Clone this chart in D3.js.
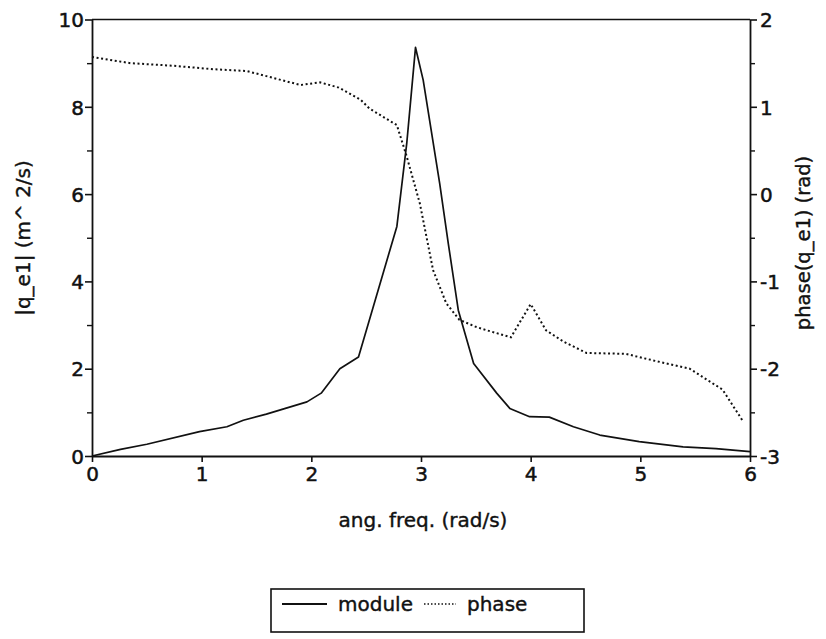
<!DOCTYPE html>
<html>
<head>
<meta charset="utf-8">
<script src="https://cdn.jsdelivr.net/npm/d3@7"></script>
<style>
  html, body { margin: 0; padding: 0; background: #fff; }
  svg text { font-family: "DejaVu Sans", sans-serif; fill: #111; }
</style>
</head>
<body>
<svg id="chart" width="826" height="639"></svg>
<script>
// Frequency response of q_e1: modulus (left axis) and phase (right axis)
const moduleFreq   = [0, 0.26, 0.5, 0.98, 1.23, 1.38, 1.59, 1.96, 2.09, 2.26, 2.43, 2.53, 2.78, 2.87, 2.95, 3.02, 3.17, 3.25, 3.34, 3.48, 3.69, 3.81, 3.99, 4.17, 4.39, 4.63, 4.99, 5.39, 5.69, 6.0];
const moduleValues = [0, 0.15, 0.27, 0.56, 0.67, 0.82, 0.96, 1.24, 1.44, 2.0, 2.27, 3.12, 5.26, 7.16, 9.36, 8.61, 6.25, 4.85, 3.34, 2.12, 1.44, 1.09, 0.90, 0.89, 0.67, 0.48, 0.33, 0.21, 0.17, 0.10];

const phaseFreq   = [0, 0.35, 0.74, 1.11, 1.41, 1.90, 2.08, 2.25, 2.45, 2.53, 2.78, 2.87, 2.99, 3.11, 3.23, 3.35, 3.50, 3.60, 3.82, 4.0, 4.14, 4.30, 4.51, 4.87, 5.03, 5.45, 5.75, 5.94];
const phaseValues = [1.57, 1.50, 1.47, 1.43, 1.41, 1.25, 1.28, 1.22, 1.08, 0.98, 0.79, 0.43, -0.11, -0.87, -1.25, -1.44, -1.52, -1.56, -1.64, -1.26, -1.56, -1.69, -1.82, -1.83, -1.88, -2.0, -2.24, -2.61];

const xTicks = [0, 1, 2, 3, 4, 5, 6];
const leftTicks = [0, 2, 4, 6, 8, 10];
const leftMinorTicks = [1, 3, 5, 7, 9];
const rightTicks = [-3, -2, -1, 0, 1, 2];
const rightMinorTicks = [-2.5, -1.5, -0.5, 0.5, 1.5];

const xTitle = "ang. freq. (rad/s)";
const leftTitle = "|q_e1|  (m^ 2/s)";
const rightTitle = "phase(q_e1) (rad)";
const legendLabels = ["module", "phase"];

const svg = d3.select("#chart");
const plot = { left: 92, right: 750, top: 19.5, bottom: 456 };

const x = d3.scaleLinear().domain([0, 6]).range([plot.left, plot.right]);
const yL = d3.scaleLinear().domain([0, 10]).range([plot.bottom, plot.top]);
const yR = d3.scaleLinear().domain([-3, 2]).range([plot.bottom, plot.top]);

const ink = "#111";
const fontSize = 20;
const plain = d => String(d);   // ASCII hyphen for negatives

// frame top line
svg.append("line")
  .attr("x1", plot.left).attr("x2", plot.right)
  .attr("y1", plot.top).attr("y2", plot.top)
  .attr("stroke", ink).attr("stroke-width", 1.6);

function styleAxis(g) {
  g.select(".domain").attr("stroke", ink).attr("stroke-width", 1.8);
  g.selectAll(".tick line").attr("stroke", ink).attr("stroke-width", 1.6);
  g.selectAll(".tick text")
    .attr("font-size", fontSize)
    .attr("font-family", "DejaVu Sans, sans-serif")
    .attr("fill", ink)
    .attr("stroke", ink).attr("stroke-width", 0.5);
}

// bottom axis
const gx = svg.append("g")
  .attr("transform", `translate(0,${plot.bottom})`)
  .call(d3.axisBottom(x).tickValues(xTicks).tickFormat(plain).tickSize(6).tickPadding(5).tickSizeOuter(0));
styleAxis(gx);

// left axis (major + minor ticks)
const gyL = svg.append("g")
  .attr("transform", `translate(${plot.left},0)`)
  .call(d3.axisLeft(yL).tickValues(leftTicks).tickFormat(plain).tickSize(7).tickPadding(1).tickSizeOuter(0));
styleAxis(gyL);
gyL.selectAll(".tick text").attr("dy", "0.36em");
svg.append("g")
  .attr("transform", `translate(${plot.left},0)`)
  .call(d3.axisLeft(yL).tickValues(leftMinorTicks).tickFormat("").tickSize(5).tickSizeOuter(0))
  .call(g => { g.select(".domain").remove(); g.selectAll("line").attr("stroke", ink).attr("stroke-width", 1.4); });

// right axis (major + minor ticks)
const gyR = svg.append("g")
  .attr("transform", `translate(${plot.right},0)`)
  .call(d3.axisRight(yR).tickValues(rightTicks).tickFormat(plain).tickSize(7).tickPadding(3).tickSizeOuter(0));
styleAxis(gyR);
gyR.selectAll(".tick text").attr("dy", "0.36em");
svg.append("g")
  .attr("transform", `translate(${plot.right},0)`)
  .call(d3.axisRight(yR).tickValues(rightMinorTicks).tickFormat("").tickSize(5).tickSizeOuter(0))
  .call(g => { g.select(".domain").remove(); g.selectAll("line").attr("stroke", ink).attr("stroke-width", 1.4); });

// axis titles
svg.append("text")
  .attr("x", (plot.left + plot.right) / 2 + 2).attr("y", 527)
  .attr("text-anchor", "middle").attr("font-size", fontSize)
  .attr("stroke", ink).attr("stroke-width", 0.4)
  .text(xTitle);

svg.append("text")
  .attr("transform", `translate(30,238) rotate(-90)`)
  .attr("text-anchor", "middle").attr("font-size", fontSize)
  .attr("stroke", ink).attr("stroke-width", 0.4)
  .text(leftTitle);

svg.append("text")
  .attr("transform", `translate(810,243) rotate(-90)`)
  .attr("text-anchor", "middle").attr("font-size", 19.5)
  .attr("stroke", ink).attr("stroke-width", 0.4)
  .text(rightTitle);

// curves
const moduleData = moduleFreq.map((f, i) => [f, moduleValues[i]]);
const phaseData = phaseFreq.map((f, i) => [f, phaseValues[i]]);

svg.append("path")
  .datum(moduleData)
  .attr("fill", "none").attr("stroke", ink).attr("stroke-width", 1.7)
  .attr("stroke-linejoin", "round")
  .attr("d", d3.line().x(d => x(d[0])).y(d => yL(d[1])));

svg.append("path")
  .datum(phaseData)
  .attr("fill", "none").attr("stroke", ink).attr("stroke-width", 2)
  .attr("stroke-dasharray", "2,2.6")
  .attr("d", d3.line().x(d => x(d[0])).y(d => yR(d[1])));

// legend
const legend = svg.append("g");
legend.append("rect")
  .attr("x", 271).attr("y", 589).attr("width", 313).attr("height", 43)
  .attr("fill", "none").attr("stroke", ink).attr("stroke-width", 1.6);
legend.append("line")
  .attr("x1", 282).attr("x2", 327).attr("y1", 604).attr("y2", 604)
  .attr("stroke", ink).attr("stroke-width", 1.8);
legend.append("text")
  .attr("x", 338).attr("y", 611).attr("font-size", fontSize)
  .attr("stroke", ink).attr("stroke-width", 0.4)
  .text(legendLabels[0]);
legend.append("line")
  .attr("x1", 424).attr("x2", 456).attr("y1", 604).attr("y2", 604)
  .attr("stroke", ink).attr("stroke-width", 1.6).attr("stroke-dasharray", "1.5,2");
legend.append("text")
  .attr("x", 467).attr("y", 611).attr("font-size", fontSize)
  .attr("stroke", ink).attr("stroke-width", 0.4)
  .text(legendLabels[1]);
</script>
</body>
</html>
